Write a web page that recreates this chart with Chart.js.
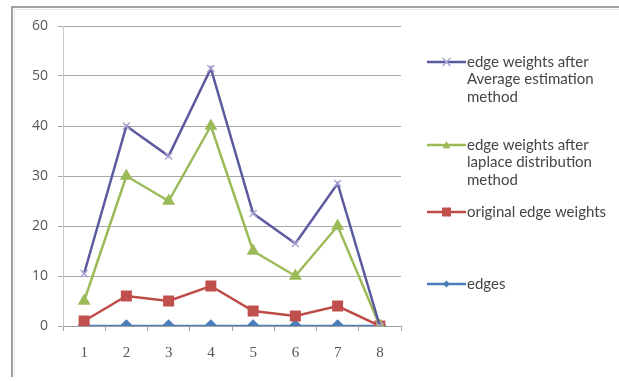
<!DOCTYPE html>
<html><head><meta charset="utf-8">
<script src="https://cdn.jsdelivr.net/npm/chart.js@4/dist/chart.umd.min.js"></script>
<style>html,body{margin:0;padding:0;background:#fff;}#wrap{position:relative;width:619px;height:381px;}</style>
</head><body><div id="wrap"><canvas id="c" width="619" height="381"></canvas></div>
<script>
const categories = ['1','2','3','4','5','6','7','8'];
const averageWeights = [10.5, 40, 34, 51.5, 22.5, 16.5, 28.5, 0];
const laplaceWeights = [5, 30, 25, 40, 15, 10, 20, 0];
const originalWeights = [1, 6, 5, 8, 3, 2, 4, 0];
const edges = [0, 0, 0, 0, 0, 0, 0, 0];
const legendLines = [
  ['edge weights after', 'Average estimation', 'method'],
  ['edge weights after', 'laplace distribution', 'method'],
  ['original edge weights'],
  ['edges']
];
const seriesNames = legendLines.map(l => l.join(' '));

const FONT = 'Lato, "Open Sans", sans-serif';
const colors = {
  avg: '#5c5a9e', avgPt: '#aaa6d2',
  lap: '#9bbb59', lapPt: '#9bbb59',
  org: '#be4b48', orgPt: '#c0504d',
  edg: '#4a7ebb', edgPt: '#4a7ebb'
};

function drawMarker(ctx, style, x, y, r, fill, stroke) {
  ctx.save();
  ctx.fillStyle = fill; ctx.strokeStyle = stroke; ctx.lineWidth = 1.5;
  ctx.beginPath();
  if (style === 'crossRot') {
    ctx.moveTo(x - r, y - r); ctx.lineTo(x + r, y + r);
    ctx.moveTo(x + r, y - r); ctx.lineTo(x - r, y + r);
    ctx.stroke();
  } else if (style === 'triangle') {
    ctx.moveTo(x, y - r); ctx.lineTo(x + r, y + r * 0.8); ctx.lineTo(x - r, y + r * 0.8); ctx.closePath();
    ctx.fill();
  } else if (style === 'rect') {
    ctx.rect(x - r, y - r, 2 * r, 2 * r); ctx.fill();
  } else if (style === 'rectRot') {
    ctx.moveTo(x, y - r); ctx.lineTo(x + r, y); ctx.lineTo(x, y + r); ctx.lineTo(x - r, y); ctx.closePath(); ctx.fill();
  }
  ctx.restore();
}

const legendItems = [
  { y: 62, color: colors.avg, pt: colors.avgPt, style: 'crossRot', r: 4 },
  { y: 145, color: colors.lap, pt: colors.lapPt, style: 'triangle', r: 4 },
  { y: 212, color: colors.org, pt: colors.orgPt, style: 'rect', r: 4.5 },
  { y: 284, color: colors.edg, pt: colors.edgPt, style: 'rectRot', r: 3.5 }
];

const framePlugin = {
  id: 'frame',
  beforeDraw(chart) {
    const ctx = chart.ctx;
    ctx.save();
    ctx.strokeStyle = '#a0a0a0'; ctx.lineWidth = 2;
    ctx.beginPath();
    ctx.moveTo(619, 7); ctx.lineTo(12, 7); ctx.lineTo(12, 377);
    ctx.stroke();
    ctx.strokeStyle = '#e6e6e6'; ctx.lineWidth = 1;
    ctx.beginPath();
    ctx.moveTo(619, 9.5); ctx.lineTo(14.5, 9.5); ctx.lineTo(14.5, 377);
    ctx.stroke();
    ctx.restore();
  },
  afterDraw(chart) {
    const ctx = chart.ctx;
    ctx.save();
    ctx.font = '15px ' + FONT;
    ctx.fillStyle = '#454545';
    ctx.textBaseline = 'middle';
    legendItems.forEach((it, i) => {
      ctx.strokeStyle = it.color; ctx.lineWidth = 2.5;
      ctx.beginPath(); ctx.moveTo(427, it.y); ctx.lineTo(466, it.y); ctx.stroke();
      drawMarker(ctx, it.style, 446.5, it.y, it.r, it.pt, it.pt);
      legendLines[i].forEach((t, j) => {
        ctx.fillText(t, 467, it.y + j * 17.5);
      });
    });
    ctx.restore();
  }
};

new Chart(document.getElementById('c'), {
  type: 'line',
  data: {
    labels: categories,
    datasets: [
      { label: seriesNames[0], data: averageWeights, borderColor: colors.avg, backgroundColor: colors.avgPt,
        pointStyle: 'crossRot', pointRadius: 5, pointBorderColor: colors.avgPt, pointBorderWidth: 1.5, borderWidth: 2.5, tension: 0 },
      { label: seriesNames[1], data: laplaceWeights, borderColor: colors.lap, backgroundColor: colors.lapPt,
        pointStyle: 'triangle', pointRadius: 5, pointBorderColor: colors.lapPt, borderWidth: 2.5, tension: 0 },
      { label: seriesNames[2], data: originalWeights, borderColor: colors.org, backgroundColor: colors.orgPt,
        pointStyle: 'rect', pointRadius: 6, pointBorderColor: colors.orgPt, borderWidth: 2.5, tension: 0 },
      { label: seriesNames[3], data: edges, borderColor: colors.edg, backgroundColor: colors.edgPt,
        pointStyle: 'rectRot', pointRadius: 5, pointBorderColor: colors.edgPt, borderWidth: 2.5, tension: 0 }
    ]
  },
  options: {
    responsive: false,
    animation: false,
    devicePixelRatio: 1,
    layout: { padding: { left: 12, top: 26, right: 218, bottom: 15 } },
    plugins: { legend: { display: false }, tooltip: { enabled: false } },
    scales: {
      x: {
        offset: true,
        grid: { display: true, drawOnChartArea: false, drawTicks: true, tickLength: 5, offset: true, color: '#a0a0a0' },
        border: { display: true, color: '#a0a0a0', width: 1 },
        ticks: { color: '#555555', font: { family: '"Liberation Serif", serif', size: 15 }, padding: 13 },
        afterFit(s) { s.height = 40; }
      },
      y: {
        min: 0, max: 60,
        ticks: { stepSize: 10, color: '#555555', font: { family: '"Open Sans", sans-serif', size: 14 }, padding: 10 },
        grid: { color: '#a8a8a8', tickLength: 5, drawTicks: true },
        border: { display: true, color: '#c8c8c8', width: 1 },
        afterFit(s) { s.width = 51; }
      }
    }
  },
  plugins: [framePlugin]
});
</script></body></html>
